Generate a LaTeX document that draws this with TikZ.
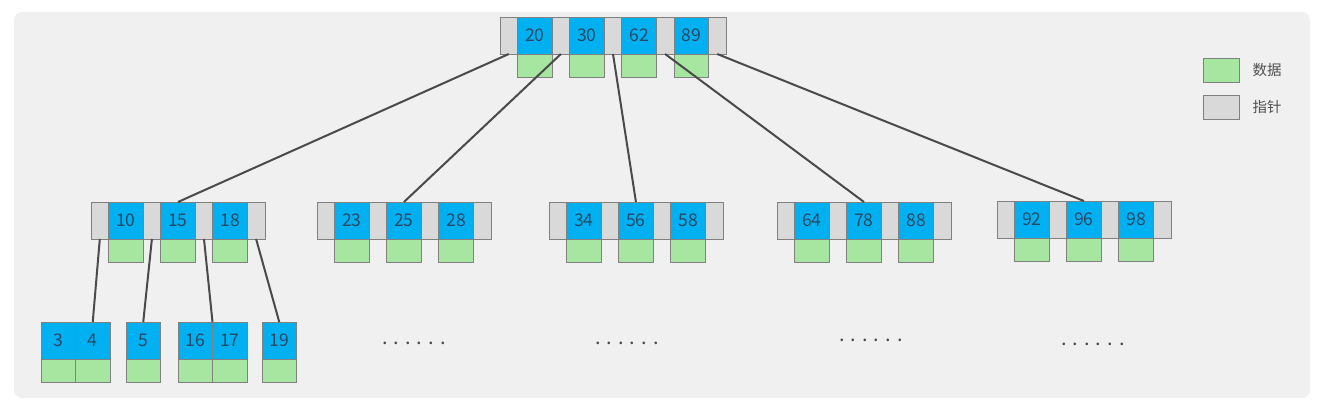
\documentclass[tikz,border=0pt]{standalone}
\usepackage{fontspec}
\setmainfont{Noto Sans CJK SC}
\usetikzlibrary{positioning}

\definecolor{bgcol}{HTML}{F0F0F0}
\definecolor{keyblue}{HTML}{00B0F0}
\definecolor{datgreen}{HTML}{A6E6A0}
\definecolor{ptrgray}{HTML}{D9D9D9}
\definecolor{cellline}{HTML}{808080}
\definecolor{keytext}{HTML}{2A4766}
\definecolor{linkgray}{HTML}{4A4A4A}
\definecolor{lgtext}{HTML}{505050}

\tikzset{
  cell/.style={draw=cellline, line width=0.8pt, inner sep=0pt, outer sep=0pt},
  ptr/.style={cell, fill=ptrgray, minimum width=17.6pt, minimum height=37pt, anchor=north west},
  key/.style={cell, fill=keyblue, text=keytext, minimum width=34.5pt, minimum height=37pt,
    anchor=north west, font=\fontsize{17.5}{20}\selectfont},
  dat/.style={cell, fill=datgreen, minimum width=34.5pt, minimum height=23pt, anchor=north},
  link/.style={draw=linkgray, line width=2pt},
  dotrow/.style={text=linkgray, font=\fontsize{20}{24}\selectfont, inner sep=0pt},
  lgtxt/.style={text=lgtext, font=\fontsize{14.5}{16}\selectfont},
}

% inner node: name, left x, top y, keys
\newcommand{\innernode}[4]{%
  \node (#1p0) [ptr] at (#2,#3) {};
  \foreach \k [count=\i, remember=\i as \j (initially 0)] in {#4} {
    \node (#1k\i) [key, right=0pt of #1p\j] {\k};
    \node (#1p\i) [ptr, right=0pt of #1k\i] {};
    \node (#1d\i) [dat] at (#1k\i.south) {};
  }
}

% leaf node: name, left x, top y, keys
\newcommand{\leafnode}[4]{%
  \foreach \k [count=\i, remember=\i as \j (initially 0)] in {#4} {
    \ifnum\i=1
      \node (#1k1) [key] at (#2,#3) {\k};
    \else
      \node (#1k\i) [key, right=0pt of #1k\j] {\k};
    \fi
    \node (#1d\i) [dat] at (#1k\i.south) {};
  }
}

\begin{document}
\begin{tikzpicture}[x=1pt, y=-1pt]
  \useasboundingbox (0,0) rectangle (1329,406);
  \fill[bgcol, rounded corners=8pt] (14,12) rectangle (1310,398);

  % root
  \innernode{root}{500}{17}{20,30,62,89}

  % second level
  \innernode{ma}{91}{202}{10,15,18}
  \innernode{mb}{317}{202}{23,25,28}
  \innernode{mc}{549}{202}{34,56,58}
  \innernode{md}{777}{202}{64,78,88}
  \innernode{me}{997}{201}{92,96,98}

  % leaves
  \leafnode{la}{41}{322}{3,4}
  \leafnode{lb}{126}{322}{5}
  \leafnode{lc}{178}{322}{16,17}
  \leafnode{ld}{262}{322}{19}

  \node (dots1) [dotrow] at (414,343) {. . . . . .};
  \node (dots2) [dotrow] at (627,343) {. . . . . .};
  \node (dots3) [dotrow] at (871,340) {. . . . . .};
  \node (dots4) [dotrow] at (1093,344) {. . . . . .};

  \draw[link] (rootp0.south) -- (mak2.north);
  \draw[link] (rootp1.south) -- (mbk2.north);
  \draw[link] (rootp2.south) -- (mck2.north);
  \draw[link] (rootp3.south) -- (mdk2.north);
  \draw[link] (rootp4.south) -- (mek2.north);

  \draw[link] (map0.south) -- (lak2.north);
  \draw[link] (map1.south) -- (lbk1.north);
  \draw[link] (map2.south) -- (lck1.north east);
  \draw[link] (map3.south) -- (ldk1.north);

  % legend
  \node (lgdat) [dat, anchor=north west, minimum width=36pt, minimum height=24pt] at (1203,58) {};
  \node (lgdattxt) [lgtxt, right=10pt of lgdat] {数据};
  \node (lgptr) [ptr, minimum width=36pt, minimum height=24pt] at (1203,95) {};
  \node (lgptrtxt) [lgtxt, right=10pt of lgptr] {指针};
\end{tikzpicture}
\end{document}
